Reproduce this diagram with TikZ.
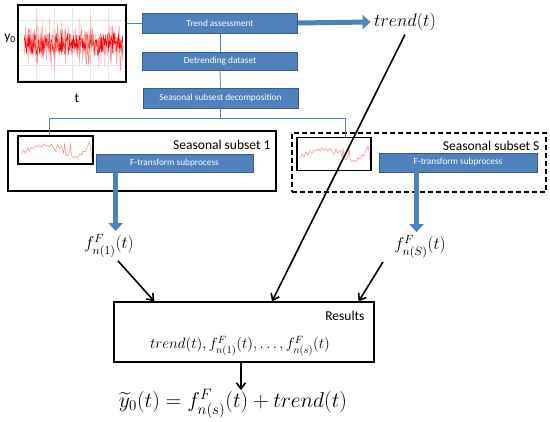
\RequirePackage{fix-cm}
\documentclass[tikz,border=0pt]{standalone}
\usepackage{amsmath}
\usepackage[no-math]{fontspec}
\setmainfont{Carlito}
\usetikzlibrary{arrows.meta,positioning}
\definecolor{boxblue}{HTML}{4F81BD}
\definecolor{boxedge}{HTML}{385D8A}

\begin{document}
\begin{tikzpicture}[x=1pt,y=-1pt,
procbox/.style={draw=boxedge,fill=boxblue,text=white,inner sep=0pt,line width=0.8pt,font=\fontsize{9.3}{11}\selectfont},
frame/.style={draw,inner sep=0pt,line width=1.2pt},
link/.style={boxblue,line width=0.8pt},
blockarr/.style={boxblue,line width=5pt,-{Triangle[length=8pt,width=14pt]}},
arr/.style={line width=1.6pt,-{Straight Barb[length=6pt,width=9pt]}},
lbl/.style={font=\fontsize{13.5}{16}\selectfont},
sigwave/.pic={\draw[red!45,line width=0.5pt] plot coordinates {(-34,4) (-32,0) (-30,3) (-28,-2) (-26,1) (-24,-3) (-22,-1) (-20,-4) (-18,-3) (-16,-5) (-14,-3) (-12,-6) (-10,-4) (-8,-5) (-6,-3) (-4,-6) (-2,-2) (0,1) (2,-5) (4,-1) (6,-4) (8,3) (9,-6) (10,4) (12,6) (14,3) (15,-6) (16,5) (18,8) (20,6) (22,8) (24,4) (26,5) (28,1) (30,2) (32,-4) (34,-8) (35,-2) (36,8)};}
]
\useasboundingbox (0,0) rectangle (550,422);
\pgfmathsetseed{11}

\node[frame,line width=1.6pt,minimum width=108,minimum height=77] (series) at (72,43.5) {};
\foreach \gx in {36,54,...,118} \draw[gray!20,line width=0.3pt] (\gx,7) -- (\gx,80);
\foreach \gy in {20,35,...,80} \draw[gray!20,line width=0.3pt] (20,\gy) -- (124,\gy);
\draw[red!45,line width=0.3pt] plot[domain=24:123,samples=360] (\x,{44+15*rand+20*rand*rand});
\draw[red,line width=0.4pt] plot[domain=24:123,samples=220] (\x,{44+11*rand});
\node[lbl] (ylab) at (10,38) {y\textsubscript{0}};
\node[lbl] (tlab) at (77,98) {t};

\node[procbox,minimum width=155,minimum height=20] (trendbox) at (220,23) {Trend assessment};
\node[procbox,minimum width=155,minimum height=18] (detrend) at (220,61) {Detrending dataset};
\node[procbox,minimum width=155,minimum height=20] (decomp) at (220.5,98) {Seasonal subsest decomposition};

\node[frame,minimum width=268,minimum height=60] (sub1) at (142,161) {};
\node[frame,minimum width=75,minimum height=28] (sub1plot) at (55.5,150) {};
\pic at (sub1plot.center) {sigwave};
\node[lbl,anchor=east] (sub1lab) at (274,145) {Seasonal subset 1};
\node[procbox,minimum width=157,minimum height=18] (ft1) at (174.5,163) {F-transform subprocess};

\node[frame,dash pattern=on 5pt off 3pt,minimum width=254,minimum height=59] (subS) at (419,162.5) {};
\node[frame,minimum width=74,minimum height=33] (subSplot) at (334,154) {};
\pic at (subSplot.center) {sigwave};
\node[lbl,anchor=east] (subSlab) at (543,146) {Seasonal subset S};
\node[procbox,minimum width=158,minimum height=19] (ftS) at (458,162.5) {F-transform subprocess};

\coordinate (split) at (220.5,118);
\coordinate (tap1) at ([xshift=-6pt]sub1plot.north);
\coordinate (tapS) at ([xshift=11pt]subSplot.north);
\draw[link] (series.east |- trendbox.west) -- (trendbox.west);
\draw[link] (trendbox.south) -- (detrend.north);
\draw[link] (detrend.south) -- (decomp.north);
\draw[link] (decomp.south) -- (split);
\draw[link] (split) -| (tap1);
\draw[link] (split) -| (tapS);

\node[font=\fontsize{18}{20}\selectfont] (trendout) at (405,22) {$trend(t)$};
\draw[blockarr] (trendbox.east) -- (trendout.west);

\node[font=\fontsize{17}{20}\selectfont] (f1) at (109,246) {$f^F_{n(1)}(t)$};
\node[font=\fontsize{17}{20}\selectfont] (fS) at (420,247) {$f^F_{n(S)}(t)$};
\coordinate (drop1) at ([xshift=20pt]ft1.south west);
\draw[blockarr] (drop1) -- (drop1 |- f1.north);
\coordinate (dropS) at ([xshift=38pt]ftS.south west);
\draw[blockarr] (dropS) -- (dropS |- fS.north);

\node[frame,minimum width=260,minimum height=60] (results) at (244,332) {};
\node[lbl,anchor=east] (reslab) at (368,316) {Results};
\node[font=\fontsize{15}{18}\selectfont] (resterms) at (240,346) {$trend(t), f^F_{n(1)}(t),\ldots, f^F_{n(s)}(t)$};
\node[font=\fontsize{21.5}{26}\selectfont] (final) at (233,404) {$\widetilde{y}_0(t) = f^F_{n(s)}(t) + trend(t)$};

\draw[arr] ([xshift=9pt]f1.south) -- ([xshift=41pt]results.north west);
\draw[arr] ([xshift=-37pt]fS.south) -- ([xshift=-16pt]results.north east);
\draw[arr] (trendout.south) -- ([xshift=28pt]results.north);
\draw[arr] ([xshift=-3pt]results.south) -- ([xshift=8pt,yshift=-4pt]final.north);
\end{tikzpicture}
\end{document}
